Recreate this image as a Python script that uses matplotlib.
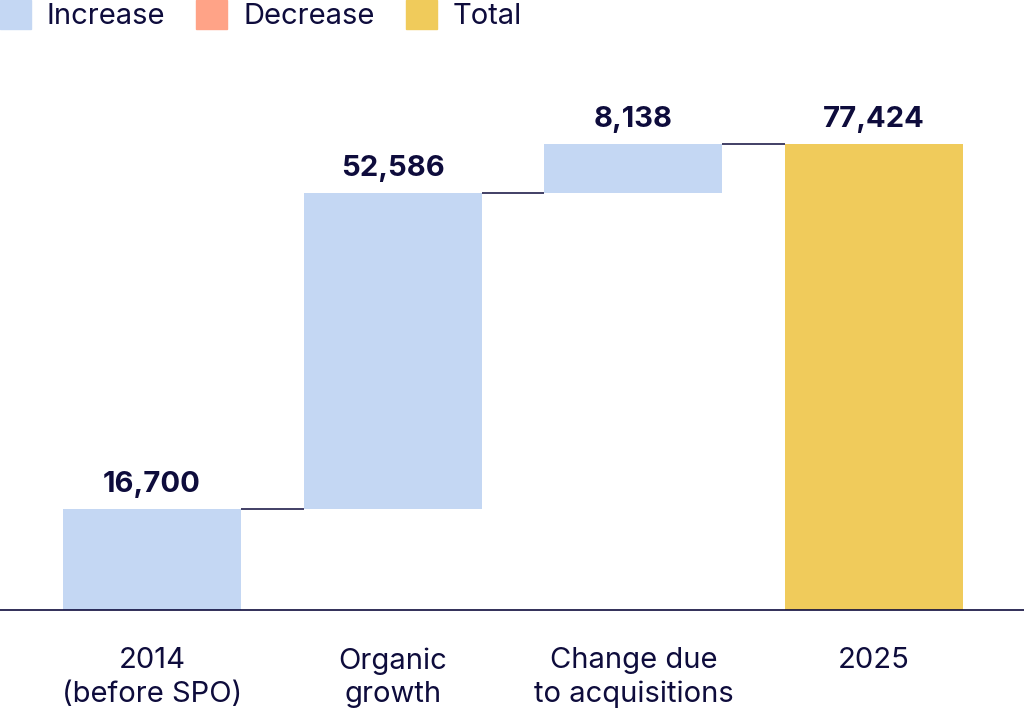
import matplotlib
matplotlib.use("Agg")
import matplotlib.pyplot as plt
from matplotlib.patches import Patch

# data
categories = ["2014\n(before SPO)", "Organic\ngrowth", "Change due\nto acquisitions", "2025"]
values = [16700, 52586, 8138, 77424]
kinds = ["increase", "increase", "increase", "total"]

colors = {"increase": "#c4d7f3", "decrease": "#ffa387", "total": "#f0cb5b"}
navy = "#0e0c3c"

plt.rcParams["font.family"] = ["Inter", "DejaVu Sans"]

fig = plt.figure(figsize=(10.24, 7.13), dpi=100)
ax = fig.add_axes([0, 103 / 713, 1, 570 / 713])

# compute bar bottoms for waterfall
bottoms = []
tops = []
running = 0
for v, k in zip(values, kinds):
    if k == "total":
        bottoms.append(0)
        tops.append(v)
        running = v
    else:
        bottoms.append(running)
        running += v
        tops.append(running)

width = 0.74
x = list(range(len(values)))
heights = [t - b for t, b in zip(tops, bottoms)]
ax.bar(x, heights, bottom=bottoms, width=width,
       color=[colors[k] for k in kinds], linewidth=0)

# connectors
for i in range(len(values) - 1):
    ax.plot([x[i] + width / 2, x[i + 1] - width / 2], [tops[i], tops[i]],
            color=navy, linewidth=1.1, solid_capstyle="butt")

# value labels
for xi, t, v in zip(x, tops, values):
    ax.annotate(f"{v:,}", (xi, t), xytext=(0, 8), textcoords="offset points",
                ha="center", va="bottom", fontsize=21, fontweight="bold", color=navy)

ax.axhline(0, color=navy, linewidth=1.2, clip_on=False, zorder=5)

ax.set_xlim(-0.632, 3.623)
ax.set_ylim(0, 94700)
ax.set_xticks(x)
ax.set_xticklabels(categories, fontsize=21, color=navy, linespacing=1.3)
ax.tick_params(axis="x", length=0, pad=27)
ax.set_yticks([])
for s in ax.spines.values():
    s.set_visible(False)

handles = [Patch(color=colors["increase"]), Patch(color=colors["decrease"]),
           Patch(color=colors["total"])]
fig.legend(handles, ["Increase", "Decrease", "Total"], loc="upper left",
           bbox_to_anchor=(0, 1.0), ncol=3, frameon=False, borderaxespad=0,
           borderpad=0, handlelength=1.06, handleheight=1.15, handletextpad=0.55,
           columnspacing=1.06, fontsize=21, labelcolor=navy)

fig.savefig("out.png", dpi=100)
